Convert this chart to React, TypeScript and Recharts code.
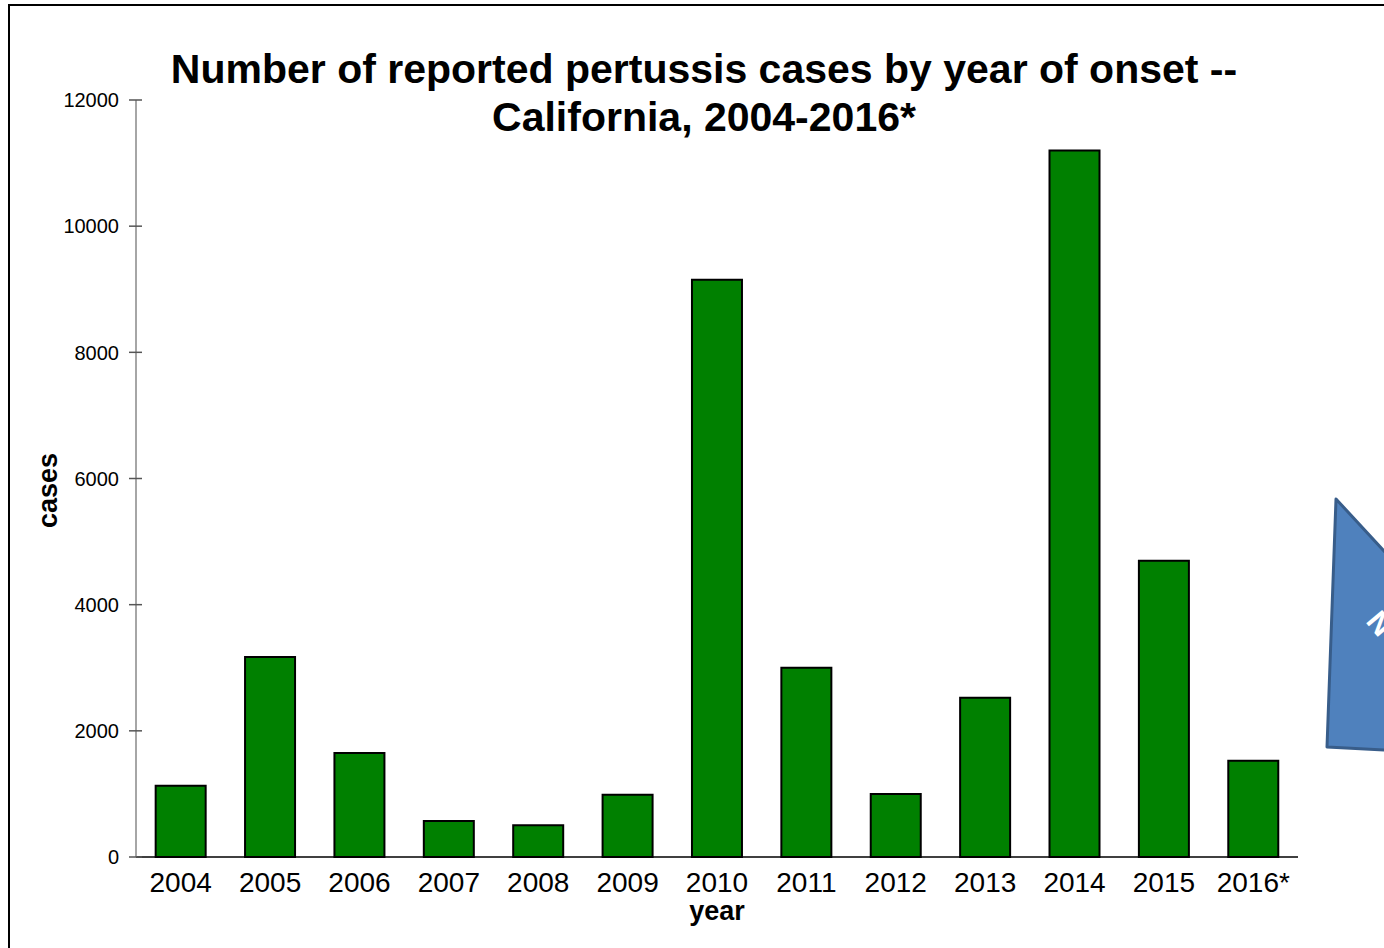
import React from "react";
import { Bar, BarChart, Cell, XAxis, YAxis } from "recharts";

const years = ["2004", "2005", "2006", "2007", "2008", "2009", "2010", "2011", "2012", "2013", "2014", "2015", "2016*"];
const cases = [1130, 3170, 1650, 570, 505, 985, 9150, 3000, 1000, 2525, 11200, 4695, 1525];
const yTicks = [0, 2000, 4000, 6000, 8000, 10000, 12000];

const green = "#008000";
const font = "'Liberation Sans', Arial, sans-serif";

const rows = years.map((year, i) => ({ year, cases: cases[i] }));

function YTick(props: any) {
  const { x, y, payload } = props;
  return (
    <g>
      <line x1={x - 7} x2={x + 6} y1={y} y2={y} stroke="#555" strokeWidth={1.5} />
      <text x={x - 17} y={y} dy="0.36em" textAnchor="end" fontSize={20} fontFamily={font} fill="#000">
        {payload.value}
      </text>
    </g>
  );
}

function XTick(props: any) {
  const { x, y, payload } = props;
  return (
    <text x={x} y={y + 33} textAnchor="middle" fontSize={28} fontFamily={font} fill="#000">
      {payload.value}
    </text>
  );
}

function CasesLabel(props: any) {
  const vb = props.viewBox || {};
  const cx = 57;
  const cy = (vb.y ?? 100) + (vb.height ?? 757) / 2 + 12;
  return (
    <text
      x={cx}
      y={cy}
      transform={`rotate(-90 ${cx} ${cy})`}
      textAnchor="middle"
      fontSize={27}
      fontWeight="bold"
      fontFamily={font}
      fill="#000"
    >
      cases
    </text>
  );
}

export default function App() {
  return (
    <div style={{ position: "fixed", left: 0, top: 0, width: 1384, height: 948, background: "#fff", overflow: "hidden" }}>
      <div
        style={{
          position: "absolute",
          left: 8,
          top: 4,
          width: 1500,
          height: 1000,
          borderLeft: "2px solid #000",
          borderTop: "2px solid #000",
        }}
      />
      <div
        style={{
          position: "absolute",
          left: 0,
          width: 1408,
          top: 45,
          textAlign: "center",
          fontFamily: font,
          fontWeight: "bold",
          fontSize: 41,
          lineHeight: "48px",
          color: "#000",
        }}
      >
        Number of reported pertussis cases by year of onset --
        <br />
        California, 2004-2016*
      </div>
      <div style={{ position: "absolute", left: 0, top: 0 }}>
        <BarChart
          width={1384}
          height={948}
          data={rows}
          margin={{ top: 100, right: 86, bottom: 61, left: 0 }}
          barCategoryGap="22%"
        >
          <XAxis
            dataKey="year"
            height={30}
            interval={0}
            tickLine={false}
            tickSize={0}
            axisLine={{ stroke: "#000", strokeWidth: 1.5 }}
            tick={<XTick />}
            label={{ value: "year", position: "insideBottom", offset: -33, fontSize: 27, fontWeight: "bold", fontFamily: font, fill: "#000" } as any}
          />
          <YAxis
            width={136}
            domain={[0, 12000]}
            ticks={yTicks}
            interval={0}
            tickLine={false}
            tickSize={0}
            tickMargin={0}
            axisLine={{ stroke: "#888", strokeWidth: 1.5 }}
            tick={<YTick />}
            label={{ content: (p: any) => <CasesLabel {...p} /> } as any}
          />
          <Bar dataKey="cases" fill={green} stroke="#000" strokeWidth={2} isAnimationActive={false}>
            {rows.map((r, i) => (
              <Cell key={i} fill={green} />
            ))}
          </Bar>
        </BarChart>
      </div>
      <svg style={{ position: "absolute", left: 0, top: 0 }} width={1384} height={948}>
        <polygon points="1336,499 1420,590 1420,752 1327,747" fill="#4F81BD" stroke="#385D8A" strokeWidth={3} strokeLinejoin="round" />
        <text x={1372} y={630} fill="#fff" fontSize={30} fontWeight="bold" fontFamily={font} textAnchor="middle" transform="rotate(50 1372 630)">
          N
        </text>
      </svg>
    </div>
  );
}
